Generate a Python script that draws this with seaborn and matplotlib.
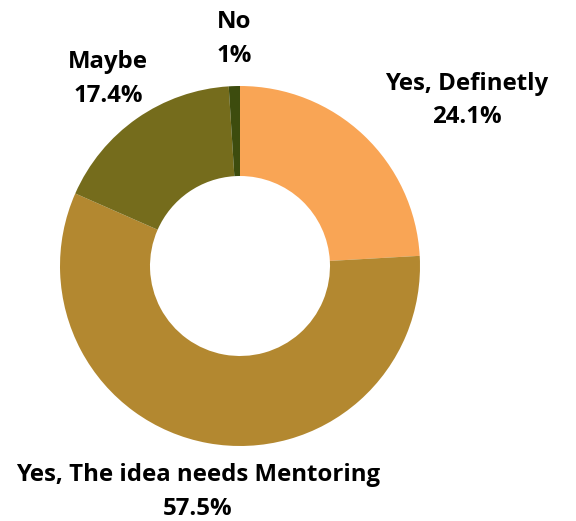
import matplotlib
import matplotlib.pyplot as plt
import seaborn as sns

matplotlib.use("Agg")

categories = ["Yes, Definetly", "Yes, The idea needs Mentoring", "Maybe", "No"]
shares = [24.1, 57.5, 17.4, 1.0]
pct_labels = ["24.1%", "57.5%", "17.4%", "1%"]
colors = ["#F9A555", "#B38830", "#756C1C", "#3D4C0E"]

W, H = 576, 521


def main() -> None:
    sns.set_theme(style="white")
    plt.rcParams["font.family"] = ["Open Sans", "DejaVu Sans"]
    fig = plt.figure(figsize=(W / 100, H / 100), dpi=100)
    ax = fig.add_axes([0, 0, 1, 1])
    ax.pie(
        shares,
        colors=colors,
        startangle=90,
        counterclock=False,
        center=(240, H - 266),
        radius=180,
        wedgeprops=dict(width=90, linewidth=0),
        frame=True,
    )
    ax.set_xlim(0, W)
    ax.set_ylim(0, H)
    ax.set_aspect("equal")
    ax.axis("off")

    # label positions in pixel coords (from top-left)
    spots = {
        "Yes, Definetly": (467, 100.5),
        "Yes, The idea needs Mentoring": (198, 492),
        "Maybe": (108, 79),
        "No": (234, 39),
    }
    for name, pct in zip(categories, pct_labels):
        x, y = spots[name]
        ax.text(
            x, H - y, f"{name}\n{pct}",
            ha="center", va="center", fontsize=17.3, fontweight="bold",
            color="black", linespacing=1.55,
        )
    fig.savefig("out.png", dpi=100)
    plt.close(fig)


if __name__ == "__main__":
    main()
